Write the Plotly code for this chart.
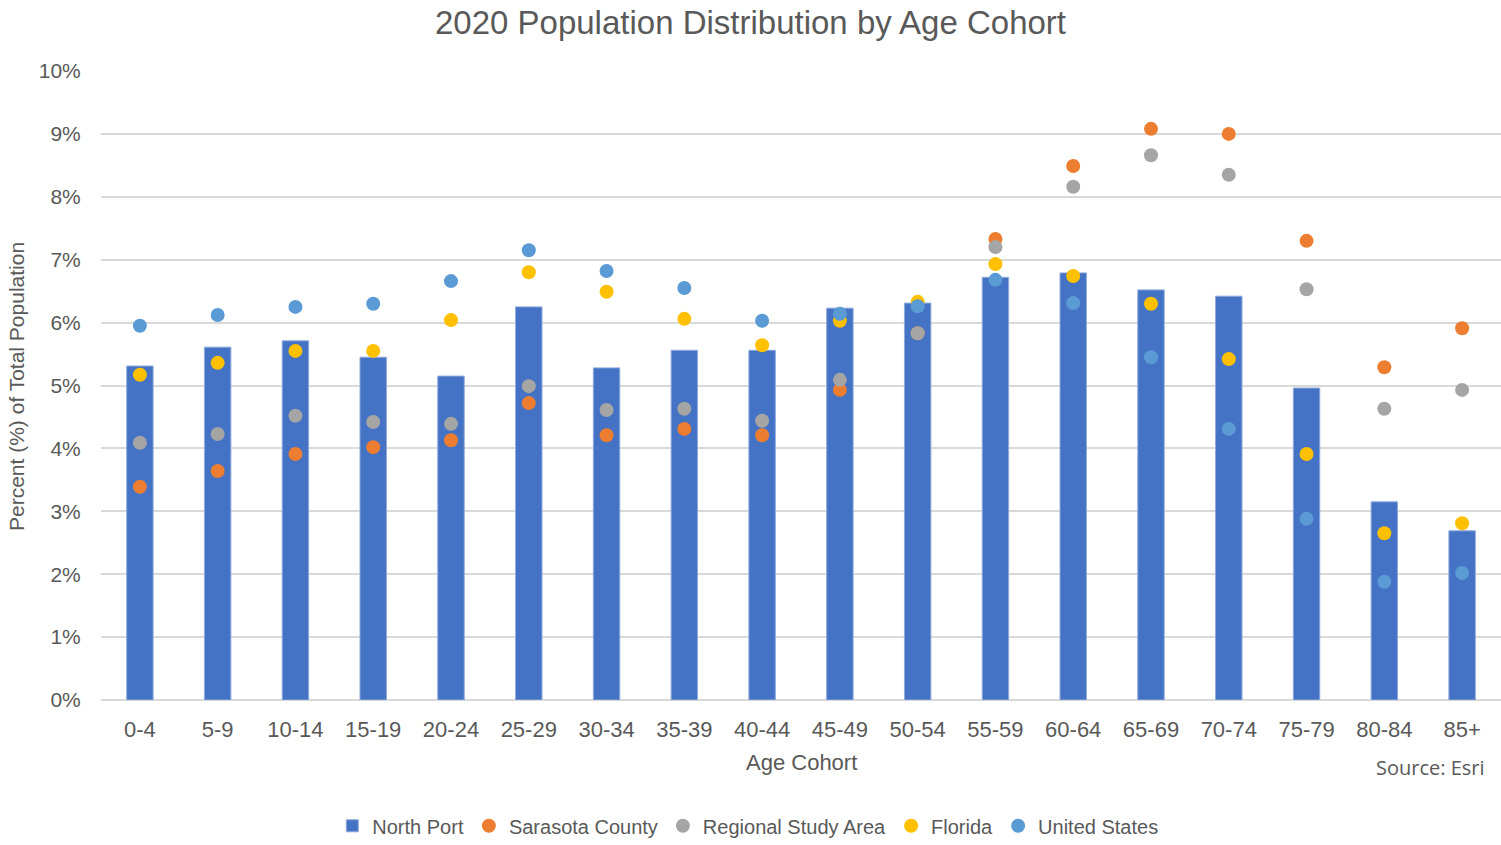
import plotly.graph_objects as go

categories = ["0-4", "5-9", "10-14", "15-19", "20-24", "25-29", "30-34", "35-39", "40-44",
              "45-49", "50-54", "55-59", "60-64", "65-69", "70-74", "75-79", "80-84", "85+"]

north_port = [5.31, 5.61, 5.71, 5.45, 5.15, 6.25, 5.28, 5.56, 5.56,
              6.23, 6.31, 6.72, 6.79, 6.52, 6.42, 4.96, 3.15, 2.69]
sarasota = [3.39, 3.64, 3.91, 4.02, 4.13, 4.72, 4.21, 4.31, 4.21,
            4.93, 5.83, 7.33, 8.49, 9.08, 9.00, 7.30, 5.29, 5.91]
regional = [4.09, 4.23, 4.52, 4.42, 4.39, 4.99, 4.61, 4.63, 4.44,
            5.09, 5.83, 7.20, 8.16, 8.66, 8.35, 6.53, 4.63, 4.93]
florida = [5.17, 5.36, 5.55, 5.55, 6.04, 6.80, 6.49, 6.06, 5.64,
           6.03, 6.33, 6.93, 6.74, 6.30, 5.42, 3.91, 2.65, 2.81]
united_states = [5.95, 6.12, 6.25, 6.30, 6.66, 7.15, 6.82, 6.55, 6.03,
                 6.14, 6.26, 6.68, 6.31, 5.45, 4.31, 2.88, 1.88, 2.02]

y_ticks = [0, 1, 2, 3, 4, 5, 6, 7, 8, 9, 10]
y_tick_labels = [f"{v}%" for v in y_ticks]

fig = go.Figure()
fig.add_trace(go.Bar(
    x=categories, y=north_port, name="North Port",
    marker=dict(color="#4472C4", line=dict(color="#8FAADC", width=1)),
    width=0.34,
))
for name, vals, col in [
    ("Sarasota County", sarasota, "#ED7D31"),
    ("Regional Study Area", regional, "#A5A5A5"),
    ("Florida", florida, "#FFC000"),
    ("United States", united_states, "#5B9BD5"),
]:
    fig.add_trace(go.Scatter(
        x=categories, y=vals, name=name, mode="markers",
        marker=dict(color=col, size=14, line=dict(width=0)),
    ))

fig.update_layout(
    width=1501, height=845,
    paper_bgcolor="white", plot_bgcolor="white",
    margin=dict(l=101, r=0, t=71, b=145, autoexpand=False),
    font=dict(family="Liberation Sans", color="#595959"),
    title=dict(text="2020 Population Distribution by Age Cohort", x=0.5, xanchor="center",
               y=1 - 22 / 845, yanchor="middle",
               font=dict(size=33, color="#595959", family="Liberation Sans")),
    showlegend=True,
    legend=dict(orientation="h", x=0.462, xanchor="center", y=-0.2, yanchor="middle",
                font=dict(size=20, family="Liberation Sans", color="#595959"),
                itemwidth=30, traceorder="normal"),
    xaxis=dict(type="category", range=[-0.5, len(categories) - 0.5],
               showgrid=False, showline=False, zeroline=False,
               automargin=False,
               ticks="outside", ticklen=10, tickcolor="white",
               tickfont=dict(size=22, color="#595959")),
    yaxis=dict(range=[0, 10], tickvals=y_ticks, ticktext=y_tick_labels,
               automargin=False,
               showgrid=True, gridcolor="#D9D9D9", gridwidth=2,
               zeroline=True, zerolinecolor="#D9D9D9", zerolinewidth=2,
               showline=False, ticks="outside", ticklen=15, tickcolor="white",
               tickfont=dict(size=21, color="#595959")),
    bargap=0.66,
    annotations=[
        dict(text="Age Cohort", xref="paper", yref="paper", x=(802 - 101) / 1400, y=(700 - 762) / 629,
             xanchor="center", yanchor="middle", showarrow=False,
             font=dict(size=22, family="Liberation Sans", color="#595959")),
        dict(text="Percent (%) of Total Population", xref="paper", yref="paper",
             x=(17 - 101) / 1400, y=(700 - 387) / 629, textangle=-90,
             xanchor="center", yanchor="middle", showarrow=False,
             font=dict(size=21, family="Liberation Sans", color="#595959")),
        dict(text="Source: Esri", xref="paper", yref="paper", x=(1487 - 101) / 1400, y=(700 - 767) / 629,
             xanchor="right", yanchor="middle", showarrow=False,
             font=dict(size=20, family="Open Sans", color="#595959")),
    ],
)

fig.write_html("out.html", config={"displayModeBar": False},
               post_script="document.body.style.margin='0';document.body.style.overflow='hidden';")
